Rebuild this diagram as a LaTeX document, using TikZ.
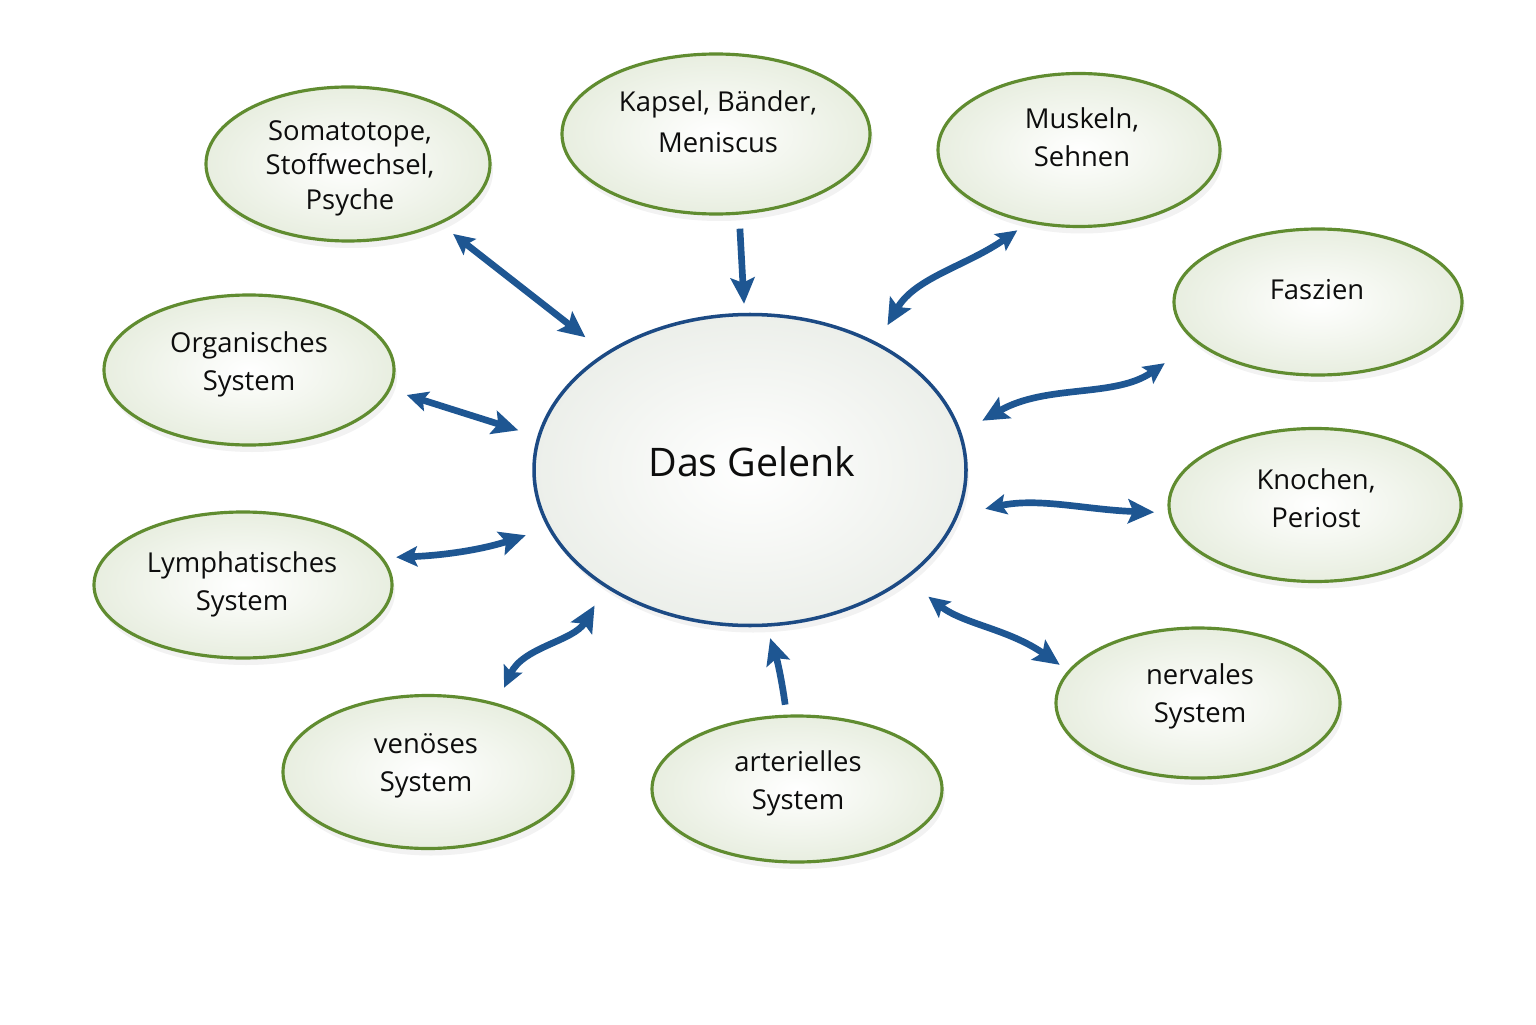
\documentclass[tikz,border=0pt]{standalone}
\usepackage{fontspec}
\setmainfont{Open Sans}
\definecolor{gborder}{RGB}{96,140,48}
\definecolor{gfill}{RGB}{232,238,224}
\definecolor{jblue}{RGB}{28,74,132}
\definecolor{jfill}{RGB}{236,239,234}
\definecolor{ablue}{RGB}{30,86,146}
\usetikzlibrary{arrows.meta,shapes.geometric,shadows}
\tikzset{
  bubble/.style={ellipse, draw=gborder, line width=0.9pt, inner sep=0pt, inner color=white, outer color=gfill,
    drop shadow={shadow xshift=0.03cm, shadow yshift=-0.07cm, opacity=0.1}},
  txt/.style={align=center, font=\fontsize{7.8}{10.8}\selectfont, text=black!95},
  link/.style={draw=ablue, line width=1.9pt, -{Stealth[length=2.6mm,width=2.4mm,inset=0.5mm]}},
  dlink/.style={link, {Stealth[length=2.1mm,width=2mm,inset=0.4mm]}-{Stealth[length=2.6mm,width=2.4mm,inset=0.5mm]}}
}
\begin{document}
\begin{tikzpicture}
  \fill[white] (0,0) rectangle (15.36,10.24);
  \useasboundingbox (0,0) rectangle (15.36,10.24);

  \node[ellipse, draw=jblue, line width=1pt, inner sep=0pt, inner color=white, outer color=jfill, minimum width=4.32cm, minimum height=3.11cm,
    drop shadow={shadow xshift=0.03cm, shadow yshift=-0.07cm, opacity=0.1}] (gelenk) at (7.50,5.54) {};
  \node[txt, font=\fontsize{11.2}{13}\selectfont] (gelenk-t) at (7.52,5.62) {Das Gelenk};

  \node[bubble, minimum width=2.84cm, minimum height=1.54cm] (soma) at (3.48,8.60) {};
  \node[txt, font=\fontsize{7.8}{9.8}\selectfont] (soma-t) at (3.50,8.56) {Somatotope,\\Stoffwechsel,\\Psyche};

  \node[bubble, minimum width=3.08cm, minimum height=1.60cm] (kapsel) at (7.16,8.90) {};
  \node[txt, font=\fontsize{7.8}{11.6}\selectfont] (kapsel-t) at (7.18,9.02) {Kapsel, Bänder,\\Meniscus};

  \node[bubble, minimum width=2.82cm, minimum height=1.53cm] (muskeln) at (10.79,8.74) {};
  \node[txt] (muskeln-t) at (10.82,8.87) {Muskeln,\\Sehnen};

  \node[bubble, minimum width=2.88cm, minimum height=1.46cm] (faszien) at (13.18,7.22) {};
  \node[txt] (faszien-t) at (13.17,7.34) {Faszien};

  \node[bubble, minimum width=2.90cm, minimum height=1.50cm] (organ) at (2.49,6.54) {};
  \node[txt] (organ-t) at (2.49,6.60) {Organisches\\System};

  \node[bubble, minimum width=2.92cm, minimum height=1.53cm] (knochen) at (13.15,5.19) {};
  \node[txt] (knochen-t) at (13.16,5.26) {Knochen,\\Periost};

  \node[bubble, minimum width=2.98cm, minimum height=1.46cm] (lymph) at (2.43,4.39) {};
  \node[txt] (lymph-t) at (2.42,4.40) {Lymphatisches\\System};

  \node[bubble, minimum width=2.90cm, minimum height=1.53cm] (venoes) at (4.28,2.52) {};
  \node[txt] (venoes-t) at (4.26,2.58) {venöses\\System};

  \node[bubble, minimum width=2.90cm, minimum height=1.46cm] (arter) at (7.97,2.35) {};
  \node[txt] (arter-t) at (7.98,2.41) {arterielles\\System};

  \node[bubble, minimum width=2.84cm, minimum height=1.50cm] (nerv) at (11.98,3.21) {};
  \node[txt] (nerv-t) at (12.00,3.28) {nervales\\System};

  \draw[dlink, shorten <=0.16cm, shorten >=0.25cm] (soma.-33) -- (gelenk.141);
  \draw[link, shorten <=0.14cm, shorten >=0.09cm] (kapsel.-74) -- (gelenk.92);
  \draw[dlink, shorten <=0.13cm, shorten >=0.20cm] (muskeln.235) to[out=215,in=60] (gelenk.45);
  \draw[dlink, shorten <=0.37cm, shorten >=0.24cm] (faszien.198) to[out=215,in=30] (gelenk.10);
  \draw[dlink, shorten <=0.17cm, shorten >=0.20cm] (organ.-8) -- (gelenk.171);
  \draw[dlink, shorten <=0.27cm, shorten >=0.14cm] (gelenk.-12) to[out=12,in=178] (knochen.183);
  \draw[dlink, shorten <=0.13cm, shorten >=0.23cm] (lymph.11) to[bend right=8] (gelenk.196);
  \draw[dlink, shorten <=0.17cm, shorten >=0.21cm] (venoes.45) to[out=65,in=240] (gelenk.219);
  \draw[link, shorten <=0.10cm, shorten >=0.12cm] (arter.98) to[bend right=5] (gelenk.-84);
  \draw[dlink, shorten <=0.28cm, shorten >=0.10cm] (gelenk.-35) to[out=-38,in=145] (nerv.166);
\end{tikzpicture}
\end{document}
